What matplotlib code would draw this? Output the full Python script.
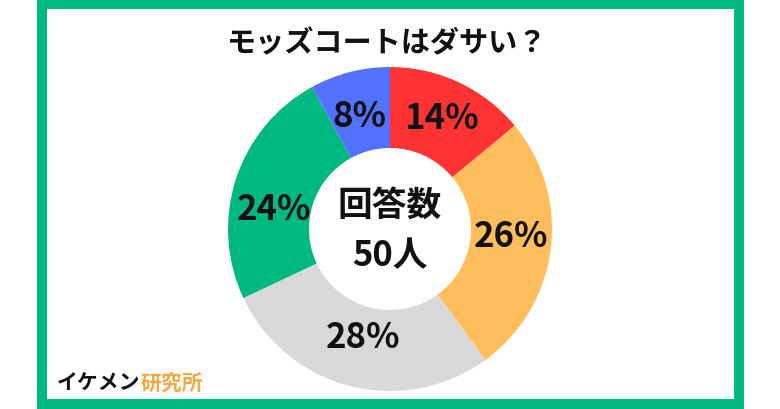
import matplotlib.pyplot as plt
from matplotlib.patches import Rectangle
from matplotlib.transforms import offset_copy

plt.rcParams['font.family'] = ['Noto Sans CJK JP', 'DejaVu Sans']

# ---- data ---- #
title = 'モッズコートはダサい？'
shares = [14, 26, 28, 24, 8]
colors = ['#FF3333', '#FFBD5C', '#D9D9D9', '#00B981', '#5271FF']
center_label = '回答数\n50人'

W, H = 780, 410
fig = plt.figure(figsize=(W / 100, H / 100), dpi=100)
fig.patch.set_facecolor('white')

# green frame
fig.add_artist(Rectangle((42 / W, 5 / H), (738.5 - 42) / W, 400 / H,
                         transform=fig.transFigure, fill=False,
                         edgecolor='#00B981', linewidth=7.2))

# donut, centre at (390, 230) px, outer radius 162 px
r = 162
ax = fig.add_axes([(390 - r) / W, (H - 230 - r) / H, 2 * r / W, 2 * r / H])
wedges, texts, pcts = ax.pie(shares, colors=colors, startangle=90,
                             counterclock=False, autopct='%.0f%%',
                             pctdistance=0.75,
                             wedgeprops=dict(width=0.5, linewidth=0),
                             textprops=dict(fontsize=25, fontweight='bold',
                                            color='#111111'))
ax.set_xlim(-1, 1)
ax.set_ylim(-1, 1)
ax.set_aspect('auto')
ax.axis('off')

# small nudges (points) so labels sit like the original
nudges = [(0, 1), (0, 6), (2, 7), (0, -12), (0, -3)]
for t, (dx, dy) in zip(pcts, nudges):
    t.set_transform(offset_copy(t.get_transform(), fig=fig, x=dx, y=dy,
                                units='points'))

ax.text(0, 0, center_label, ha='center', va='center', fontsize=25,
        fontweight='bold', color='#111111', linespacing=1.55)

fig.text(387 / W, 1 - 43 / H, title, ha='center', va='center',
         fontsize=21, fontweight='bold', color='#111111')

# brand mark bottom left
t1 = fig.text(57 / W, 1 - 383 / H, 'イケメン', ha='left', va='center',
              fontsize=15, fontweight='bold', color='#111111')
fig.canvas.draw()
bb = t1.get_window_extent()
fig.text(bb.x1 / W, 1 - 383 / H, '研究所', ha='left', va='center',
         fontsize=15, fontweight='bold', color='#F4A940')

fig.savefig('out.png', dpi=100)
